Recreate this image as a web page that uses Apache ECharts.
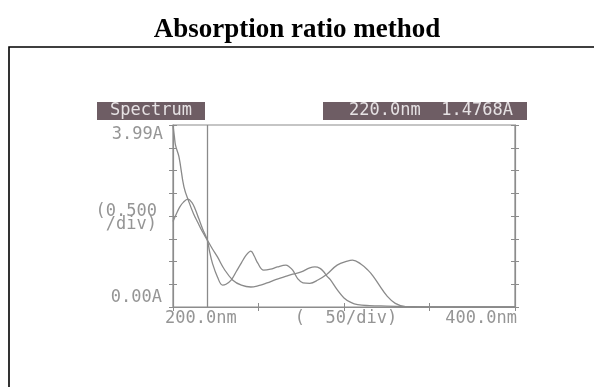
<!DOCTYPE html>
<html><head><meta charset="utf-8">
<script src="https://cdn.jsdelivr.net/npm/echarts@6/dist/echarts.min.js"></script>
<style>html,body{margin:0;padding:0;background:#fff}#c{width:594px;height:387px}</style>
</head><body><div id="c"></div>
<script>
// Spectrum 1 (steep rise at 200 nm)
const curve1Nm  = [200, 200.8, 201.5, 203.5, 206.4, 209.3, 212, 214.6, 217, 220, 223, 226, 230, 235, 240, 245.5, 250, 255, 260, 265, 270, 275, 280, 283, 286, 288, 290, 292, 296, 300, 304, 308, 315, 325, 336, 350, 400];
const curve1Abs = [3.99, 3.75, 3.55, 3.3, 2.64, 2.31, 2.05, 1.85, 1.67, 1.477, 1.28, 1.1, 0.83, 0.59, 0.48, 0.44, 0.47, 0.53, 0.6, 0.66, 0.72, 0.77, 0.86, 0.88, 0.85, 0.78, 0.68, 0.6, 0.38, 0.2, 0.1, 0.05, 0.03, 0.02, 0.01, 0, 0];
// Spectrum 2 (peak near 209 nm)
const curve2Nm  = [200, 202, 204, 206, 208.7, 211, 213, 215, 217.5, 220, 221.5, 223, 226, 229, 231, 234, 237, 240, 243, 245.5, 247.5, 249.5, 253, 257, 261, 266, 268, 270, 273, 276, 280, 285, 290, 296, 302, 305, 310, 314, 317, 321, 325, 330, 336, 400];
const curve2Abs = [1.88, 2.05, 2.2, 2.3, 2.37, 2.3, 2.15, 1.95, 1.7, 1.477, 1.2, 0.97, 0.66, 0.48, 0.5, 0.59, 0.78, 0.97, 1.15, 1.23, 1.12, 0.97, 0.81, 0.83, 0.88, 0.92, 0.88, 0.81, 0.62, 0.53, 0.52, 0.6, 0.72, 0.92, 1.01, 1.03, 0.94, 0.81, 0.68, 0.46, 0.25, 0.08, 0.01, 0];
// cursor
const cursorNm = 220;
const cursorLabel = '220.0nm  1.4768A';
// axis texts
const yTopLabel = '3.99A';
const yMidLabel = '(0.500\n/div)';
const yBottomLabel = '0.00A';
const xLeftLabel = '200.0nm';
const xMidLabel = '(  50/div)';
const xRightLabel = '400.0nm';
const headerLabel = 'Spectrum';
const titleText = 'Absorption ratio method';

const GRAY = '#8c8c8c';
const MONO = "'DejaVu Sans Mono', 'Liberation Mono', monospace";
const chart = echarts.init(document.getElementById('c'), null, {renderer: 'canvas'});

function pairs(xs, ys) { return xs.map((x, i) => [x, ys[i]]); }
function xAx(inside) {
  return {type: 'value', min: 200, max: 400, interval: 50, position: 'bottom',
    axisLine: {show: !inside, lineStyle: {color: GRAY, width: 1.2}},
    axisTick: {show: true, inside: inside, length: 4, lineStyle: {color: GRAY}},
    axisLabel: {show: false}, splitLine: {show: false}};
}
function yAx(pos, inside) {
  return {type: 'value', min: 0, max: 4, interval: 0.5, position: pos,
    axisLine: {show: !inside, onZero: false, lineStyle: {color: GRAY, width: 1.2}},
    axisTick: {show: true, inside: inside, length: 4, lineStyle: {color: GRAY}},
    axisLabel: {show: false}, splitLine: {show: false}};
}
const lineStyle = {color: '#8a8a8a', width: 1.3};
chart.setOption({
  animation: false,
  backgroundColor: '#fff',
  title: {text: titleText, left: 'center', top: 12,
    textStyle: {fontFamily: "'Liberation Serif', 'Times New Roman', serif", fontWeight: 'bold', fontSize: 27, color: '#000'}},
  grid: {left: 173, right: 79, top: 125, bottom: 80, show: true, borderColor: GRAY, borderWidth: 1.2},
  xAxis: [xAx(false), xAx(true)],
  yAxis: [yAx('left', false), yAx('left', true), yAx('right', false), yAx('right', true)],
  series: [
    {type: 'line', data: pairs(curve1Nm, curve1Abs), showSymbol: false, smooth: 0.4, lineStyle: lineStyle, itemStyle: {color: '#8a8a8a'},
     markLine: {symbol: 'none', silent: true, animation: false, label: {show: false},
       lineStyle: {color: '#8a8a8a', type: 'solid', width: 1.3}, data: [{xAxis: cursorNm}]}},
    {type: 'line', data: pairs(curve2Nm, curve2Abs), showSymbol: false, smooth: 0.4, lineStyle: lineStyle, itemStyle: {color: '#8a8a8a'}}
  ]
});

const [xl, yb] = chart.convertToPixel({gridIndex: 0}, [200, 0]);
const [xr, yt] = chart.convertToPixel({gridIndex: 0}, [400, 4]);
const [xm, ymid] = chart.convertToPixel({gridIndex: 0}, [300, 2]);
const txt = (text, x, y, align, vAlign, extra) => ({type: 'text', x: x, y: y, silent: true,
  style: Object.assign({text: text, fill: '#959595', font: '17px ' + MONO, align: align, verticalAlign: vAlign}, extra || {})});
chart.setOption({graphic: [
  {type: 'rect', shape: {x: 9, y: 47, width: 700, height: 500}, style: {fill: 'none', stroke: '#000', lineWidth: 1.6}, silent: true},
  {type: 'rect', shape: {x: xl - 76, y: yt - 23, width: 108, height: 18}, style: {fill: '#6e5d64'}, silent: true},
  {type: 'rect', shape: {x: xr - 192, y: yt - 23, width: 204, height: 18}, style: {fill: '#6e5d64'}, silent: true},
  txt(headerLabel, xl - 22, yt - 14, 'center', 'middle', {fill: '#e6e2e4'}),
  txt(cursorLabel, xr - 84, yt - 14, 'center', 'middle', {fill: '#e6e2e4'}),
  txt(yTopLabel, xl - 10, yt + 10, 'right', 'middle'),
  txt(yMidLabel, xl - 16, ymid + 2, 'right', 'middle', {lineHeight: 13}),
  txt(yBottomLabel, xl - 11, yb - 9, 'right', 'middle'),
  txt(xLeftLabel, xl - 8, yb + 12, 'left', 'middle'),
  txt(xMidLabel, xm + 2, yb + 12, 'center', 'middle'),
  txt(xRightLabel, xr + 2, yb + 12, 'right', 'middle')
]});
</script></body></html>
